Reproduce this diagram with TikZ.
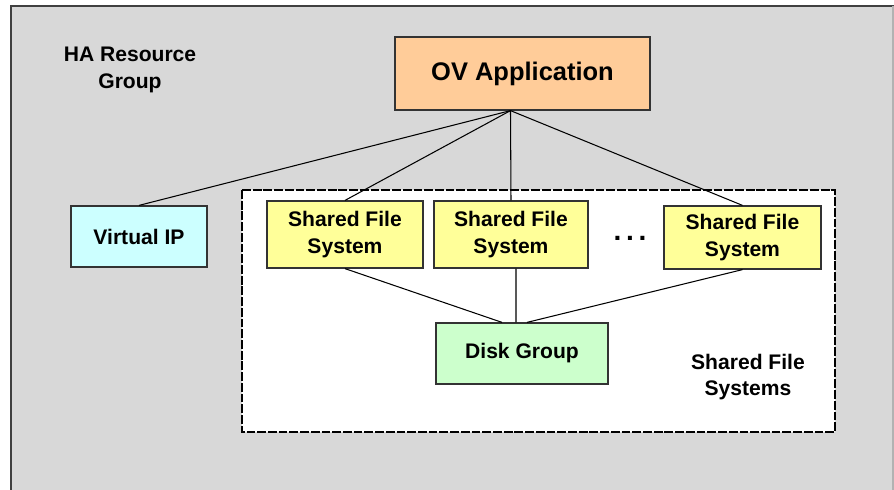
\documentclass[tikz,border=0pt]{standalone}
\usepackage{fontspec}
\setmainfont{Liberation Sans}
\usetikzlibrary{calc}

\definecolor{bggray}{HTML}{D8D8D8}
\definecolor{ovfill}{HTML}{FFCC99}
\definecolor{ipfill}{HTML}{CCFFFF}
\definecolor{fsfill}{HTML}{FFFF99}
\definecolor{dgfill}{HTML}{CCFFCC}

\begin{document}
\begin{tikzpicture}[x=0.02cm,y=-0.02cm,
        box/.style={draw=black!80,line width=0.7pt,align=center,inner sep=0pt,
            font=\bfseries\fontsize{12}{15}\selectfont},
        label/.style={align=center,font=\bfseries\fontsize{12}{15}\selectfont},
        link/.style={line width=0.6pt}]
            \useasboundingbox (0,0) rectangle (894,490);

            % background and frame
            \fill[bggray] (10,6) rectangle (894,492);
            \draw[black!75,line width=1pt] (11,492) -- (11,6) -- (894,6);
            \draw[black!30,line width=0.6pt] (893,6) -- (893,492);
            \draw[fill=white,line width=1.6pt,dash pattern=on 5pt off 1.1pt] (242,190) rectangle (835,432);

            \node[label] (ha) at (130,70) {HA Resource\\Group};
            \node[label] (sfslabel) at (748,377) {Shared File\\Systems};

            \node[box,fill=ovfill,minimum width=5.1cm,minimum height=1.46cm,
                font=\bfseries\fontsize{14.5}{17}\selectfont] (ov) at (522.5,73.5) {OV Application};
            \node[box,fill=ipfill,minimum width=2.72cm,minimum height=1.22cm] (vip) at (139,236.5) {Virtual IP};
            \node[box,fill=fsfill,minimum width=3.12cm,minimum height=1.34cm] (sfsa) at (345,234.5) {Shared File\\System};
            \node[box,fill=fsfill,minimum width=3.08cm,minimum height=1.34cm] (sfsb) at (511,234.5) {Shared File\\System};
            \node[box,fill=fsfill,minimum width=3.14cm,minimum height=1.26cm] (sfsc) at (742.5,237.5) {Shared File\\System};
            \node[box,fill=dgfill,minimum width=3.44cm,minimum height=1.22cm] (disk) at (522,353.5) {Disk Group};
            \node[label,font=\bfseries\fontsize{16}{18}\selectfont] (dots) at (630,238) {.\,.\,.};

            \foreach \t in {vip,sfsa,sfsb,sfsc} {
                \draw[link] ([xshift=-0.24cm]ov.south) -- (\t.north);
            }

            \draw[link] (sfsa.south) -- ([xshift=-0.4cm]disk.north);
            \draw[link] ([xshift=0.1cm]sfsb.south) -- ([xshift=-0.12cm]disk.north);
            \draw[link] (sfsc.south) -- ([xshift=0.1cm]disk.north);
        \end{tikzpicture}
\end{document}
